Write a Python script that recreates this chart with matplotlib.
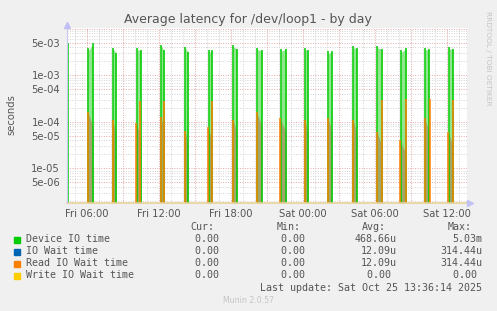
import numpy as np
import matplotlib
matplotlib.use("Agg")
import matplotlib.pyplot as plt
from matplotlib.ticker import FixedLocator, NullFormatter

nan = np.nan

# hours since Fri 00:00
green_t1 = [4.42, 6.08, 8.17, 10.17, 12.17, 14.17, 16.17, 18.17, 20.17, 22.17,
            24.17, 26.08, 28.17, 30.17, 32.17, 34.17, 36.17]
green_p1 = [5.03e-3, 3.9e-3, 3.9e-3, 3.9e-3, 4.5e-3, 4.1e-3, 3.5e-3, 4.5e-3, 3.9e-3, 3.7e-3,
            3.9e-3, 3.3e-3, 4.3e-3, 4.3e-3, 3.5e-3, 3.9e-3, 4.1e-3]
green_t2 = [nan, 6.5, 8.42, 10.5, 12.42, 14.42, 16.42, 18.5, 20.58, 22.58,
            24.42, 26.42, 28.5, 30.58, 32.58, 34.5, 36.5]
green_p2 = [nan, 4.9e-3, 3.05e-3, 3.5e-3, 3.5e-3, 3.2e-3, 3.5e-3, 3.7e-3, 3.5e-3, 3.7e-3,
            3.5e-3, 3.3e-3, 3.9e-3, 3.7e-3, 3.9e-3, 3.7e-3, 3.7e-3]

read_t1 = [6.08, 8.14, 10.08, 12.17, 14.19, 16.08, 18.19, 20.14, 22.08, 24.17,
           26.11, 28.19, 30.19, 32.08, 34.17, 36.11]
read_v1 = [1.6e-4, 1.1e-4, 9.5e-5, 1.3e-4, 6.4e-5, 7.8e-5, 1.1e-4, 1.6e-4, 1.2e-4, 1.1e-4,
           1.2e-4, 1.1e-4, 6e-5, 4.1e-5, 1.2e-4, 6e-5]
read_t2 = [nan, nan, 10.44, 12.44, nan, 16.42, nan, nan, nan, nan,
           nan, nan, 30.56, 32.56, 34.58, 36.53]
read_v2 = [nan, nan, 2.8e-4, 2.8e-4, nan, 2.8e-4, nan, nan, nan, nan,
           nan, nan, 3.0e-4, 3.14e-4, 3.1e-4, 3.0e-4]

xtick_hours = [6, 12, 18, 24, 30, 36]
xtick_labels = ["Fri 06:00", "Fri 12:00", "Fri 18:00", "Sat 00:00", "Sat 06:00", "Sat 12:00"]
ytick_values = [5e-3, 1e-3, 5e-4, 1e-4, 5e-5, 1e-5, 5e-6]
ytick_labels = ["5e-03", "1e-03", "5e-04", "1e-04", "5e-05", "1e-05", "5e-06"]

legend_names = ["Device IO time", "IO Wait time", "Read IO Wait time", "Write IO Wait time"]
legend_colors = ["#00CC00", "#0066B3", "#FF8000", "#FFCC00"]
cur_vals = ["0.00 ", "0.00 ", "0.00 ", "0.00 "]
min_vals = ["0.00 ", "0.00 ", "0.00 ", "0.00 "]
avg_vals = ["468.66u", "12.09u", "12.09u", "0.00 "]
max_vals = ["5.03m", "314.44u", "314.44u", "0.00 "]

W, H = 497, 311
BG = "#F0F0F0"
TXT = "#555555"
YMIN, YMAX = 1.81e-6, 1.05e-2
XMIN, XMAX = 4.33, 37.67

fig = plt.figure(figsize=(W / 100, H / 100), dpi=100, facecolor=BG)
ax = fig.add_axes([67 / W, 1 - 203 / H, 400 / W, 175 / H])
ax.set_facecolor("white")
ax.set_yscale("log")
ax.set_xlim(XMIN, XMAX)
ax.set_ylim(YMIN, YMAX)
for s in ax.spines.values():
    s.set_visible(False)

# grid
minor_y = [m * 10.0 ** e for e in range(-6, -1) for m in (2, 3, 4, 6, 7, 8, 9)]
major_y = [m * 10.0 ** e for e in range(-6, -1) for m in (1, 5)]
dot = (0, (1, 1.5))
for v in minor_y:
    if YMIN < v < YMAX:
        ax.axhline(v, color="#d4d4d4", lw=0.7, ls=dot, zorder=0)
for h in range(5, 38):
    if h % 3:
        ax.axvline(h, color="#d4d4d4", lw=0.7, ls=dot, zorder=0)
for v in major_y:
    if YMIN < v < YMAX:
        ax.axhline(v, color="#e6a6a6", lw=0.7, ls=dot, zorder=0)
for h in range(6, 38, 3):
    ax.axvline(h, color="#e6a6a6", lw=0.7, ls=dot, zorder=0)

# device io time
for t1, p1, t2, p2 in zip(green_t1, green_p1, green_t2, green_p2):
    if not np.isnan(t2):
        ax.fill_between([t1, t1 + 0.083, t2], [YMIN] * 3, [p1, p1 * 0.9, p2],
                        color="#8fe68f", lw=0, zorder=1)
        ax.vlines(t2, YMIN, p2, color="#00CC00", lw=1.1, zorder=3)
    ax.vlines(t1, YMIN, p1, color="#00CC00", lw=1.1, zorder=3)

# read io wait time (io wait identical, drawn beneath)
for t1, v1, t2, v2, g2 in zip(read_t1, read_v1, read_t2, read_v2, green_t2[1:]):
    ax.fill_between([t1, g2], [YMIN, YMIN], [v1, v1 * 0.5],
                    color="#a8925e", alpha=0.75, lw=0, zorder=2)
    ax.vlines(t1, YMIN, v1, color="#FF8000", lw=1.1, zorder=4)
    if not np.isnan(t2):
        ax.vlines(t2, YMIN, v2, color="#FF8000", lw=1.1, zorder=4)

# axis lines and arrows
ax.plot([XMIN, XMAX + 0.25], [YMIN * 1.01] * 2, color="#e8d29a", lw=1.2,
        clip_on=False, zorder=5)
ax.plot([XMIN, XMIN], [YMIN, YMAX * 1.12], color="#c8c8f0", lw=0.8,
        clip_on=False, zorder=5)
ax.plot([XMAX + 0.25], [YMIN * 1.01], marker=">", ms=5, color="#c0c0f4",
        clip_on=False, zorder=6)
ax.plot([XMIN], [YMAX * 1.15], marker="^", ms=5, color="#c0c0f4",
        clip_on=False, zorder=6)

ax.yaxis.set_major_locator(FixedLocator(ytick_values))
ax.yaxis.set_minor_locator(FixedLocator([]))
ax.yaxis.set_minor_formatter(NullFormatter())
ax.set_yticklabels(ytick_labels)
ax.set_xticks(xtick_hours)
ax.set_xticklabels(xtick_labels)
ax.tick_params(axis="both", length=0, labelsize=7.2, colors=TXT, pad=4)
ax.tick_params(axis="y", pad=5)

def px(x, y):
    return x / W, 1 - y / H

fig.text(*px(248, 19), "Average latency for /dev/loop1 - by day", fontsize=9,
         color=TXT, ha="center", va="center")
fig.text(*px(11, 115), "seconds", fontsize=7.2, color=TXT, rotation=90,
         ha="center", va="center")
fig.text(*px(488, 58), "RRDTOOL / TOBI OETIKER", fontsize=5.3, color="#c4c4c4",
         rotation=270, ha="center", va="center")

mono = "DejaVu Sans Mono"
fs = 7.2
cw = 6.02
headers = [("Cur:", 190.7), ("Min:", 276.7), ("Avg:", 361.7), ("Max:", 447.3)]
for txt, x in headers:
    fig.text(*px(x, 227.5), txt, family=mono, fontsize=fs, color=TXT, va="center")

col_right = [225.5, 311.2, 396.8, 482.7]
rows_y = [239.5, 251.5, 263.5, 275.5]
for i, name in enumerate(legend_names):
    y = rows_y[i]
    fig.patches.append(plt.Rectangle(px(14, y + 3), 6 / W, 6 / H,
                                     transform=fig.transFigure, color=legend_colors[i]))
    fig.text(*px(26, y), name, family=mono, fontsize=fs, color=TXT, va="center")
    for col, vals in enumerate([cur_vals, min_vals, avg_vals, max_vals]):
        s = vals[i]
        fig.text(*px(col_right[col] - len(s) * cw, y), s, family=mono, fontsize=fs,
                 color=TXT, va="center")

last = "Last update: Sat Oct 25 13:36:14 2025"
fig.text(*px(482.7 - len(last) * cw, 287.8), last, family=mono, fontsize=fs,
         color=TXT, va="center")
fig.text(*px(248, 300.5), "Munin 2.0.57", fontsize=5.6, color="#c4c4c4",
         ha="center", va="center")

fig.savefig("out.png", dpi=100, facecolor=BG)
